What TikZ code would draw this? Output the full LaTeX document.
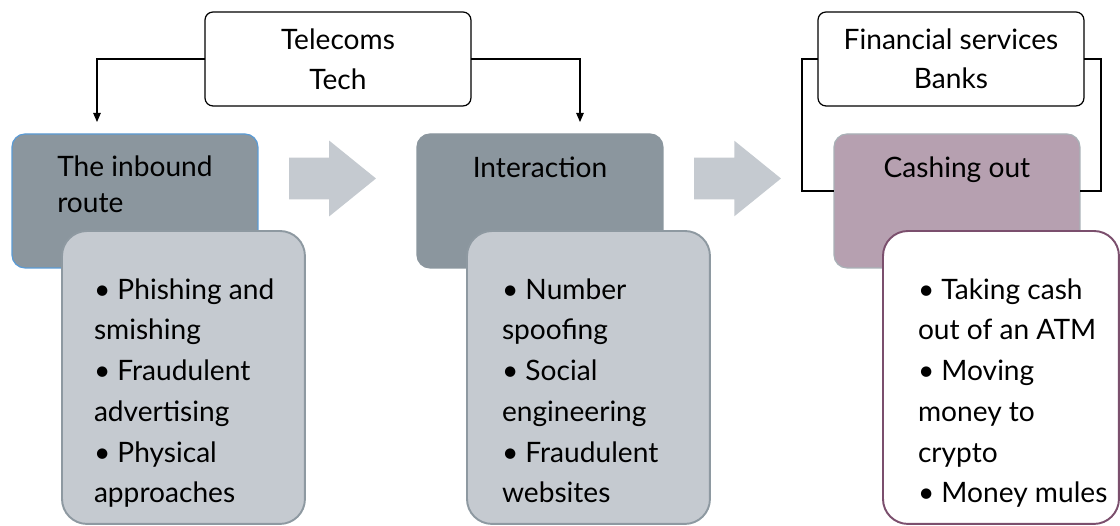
\documentclass[tikz,border=0pt]{standalone}
\usepackage{fontspec}
\setmainfont{Lato}
\usetikzlibrary{shapes.arrows,arrows.meta}

\definecolor{stagegray}{HTML}{8B969E}
\definecolor{listgray}{HTML}{C5CAD0}
\definecolor{listedge}{HTML}{8E99A1}
\definecolor{inboundedge}{HTML}{5B9BD5}
\definecolor{cashfill}{HTML}{B6A0B0}
\definecolor{cashedge}{HTML}{A9B1B7}
\definecolor{mulberry}{HTML}{7B4F6D}
\definecolor{arrowgray}{HTML}{C5CAD0}

\begin{document}
\begin{tikzpicture}[x=0.02cm, y=-0.02cm, font=\fontsize{16}{22.5}\selectfont]
    \tikzstyle{every node} = [inner sep=0pt, outer sep=0pt]
    \tikzstyle{topbox} = [draw, fill=white, rounded corners=0.16cm, line width=0.7pt, minimum width=5.32cm, minimum height=1.88cm, align=center, anchor=north west, font=\fontsize{16}{22.5}\selectfont]
    \tikzstyle{stagebox} = [rounded corners=0.26cm, line width=0.7pt, minimum width=4.92cm, minimum height=2.68cm, anchor=north west]
    \tikzstyle{listbox} = [rounded corners=0.5cm, line width=1.1pt, minimum width=4.86cm, minimum height=5.86cm, anchor=north west]
    \tikzstyle{stagetext} = [anchor=base, align=left, font=\fontsize{16}{21}\selectfont]
    \tikzstyle{listtext} = [anchor=base west, align=left, font=\fontsize{16}{23.2}\selectfont]
    \tikzstyle{flowarrow} = [single arrow, fill=arrowgray, anchor=tail, inner xsep=0pt, inner ysep=0.41cm, minimum height=1.74cm, single arrow head extend=0.34cm, single arrow tip angle=78]
    \tikzstyle{link} = [line width=0.6pt]
    \tikzstyle{tip} = [-{Triangle[length=1.8mm, width=1.5mm]}]

    \useasboundingbox (0,0) rectangle (1120,526);

    % sectors on top
    \node[topbox](tel) at (205,12){Telecoms\\Tech};
    \node[topbox](fin) at (818,12){Financial services\\Banks};

    % stages
    \node[stagebox, fill=stagegray, draw=inboundedge](inbound) at (12,134){};
    \node[stagebox, fill=stagegray, draw=stagegray](interact) at (417,134){};
    \node[stagebox, fill=cashfill, draw=cashedge](cashing) at (834,134){};
    % base = last line
    \node[stagetext](inboundtxt) at ([shift={(0,79)}]inbound.north){The inbound\\route};
    \node[stagetext](interacttxt) at ([shift={(0,44)}]interact.north){Interaction};
    \node[stagetext](cashingtxt) at ([shift={(0,44)}]cashing.north){Cashing out};

    \node[flowarrow](flow1) at (289,178.5){};
    \node[flowarrow](flow2) at (694,178.5){};

    % links from the sectors
    \coordinate (telLtip) at (97,122);
    \coordinate (telRtip) at (580,122);
    \coordinate (finLfoot) at (802,191);
    \coordinate (finRfoot) at (1101,191);
    \draw[link, tip] (tel.west) -| (telLtip);
    \draw[link, tip] (tel.east) -| (telRtip);
    \draw[link] (fin.west) -| (finLfoot) -- (finLfoot -| cashing.west);
    \draw[link] (fin.east) -| (finRfoot) -- (finRfoot -| cashing.east);

    % details
    \node[listbox, fill=listgray, draw=listedge](list1) at (62,231){};
    \node[listbox, fill=listgray, draw=listedge](list2) at (467,231){};
    \node[listbox, fill=white, draw=mulberry, minimum width=4.72cm](list3) at (883,231){};
    \node[listtext](list1txt) at ([shift={(32,272)}]list1.north west){• Phishing and\\smishing\\• Fraudulent\\advertising\\• Physical\\approaches};
    \node[listtext](list2txt) at ([shift={(35,272)}]list2.north west){• Number\\spoofing\\• Social\\engineering\\• Fraudulent\\websites};
    \node[listtext](list3txt) at ([shift={(35,272)}]list3.north west){• Taking cash\\out of an ATM\\• Moving\\money to\\crypto\\• Money mules};
\end{tikzpicture}
\end{document}
